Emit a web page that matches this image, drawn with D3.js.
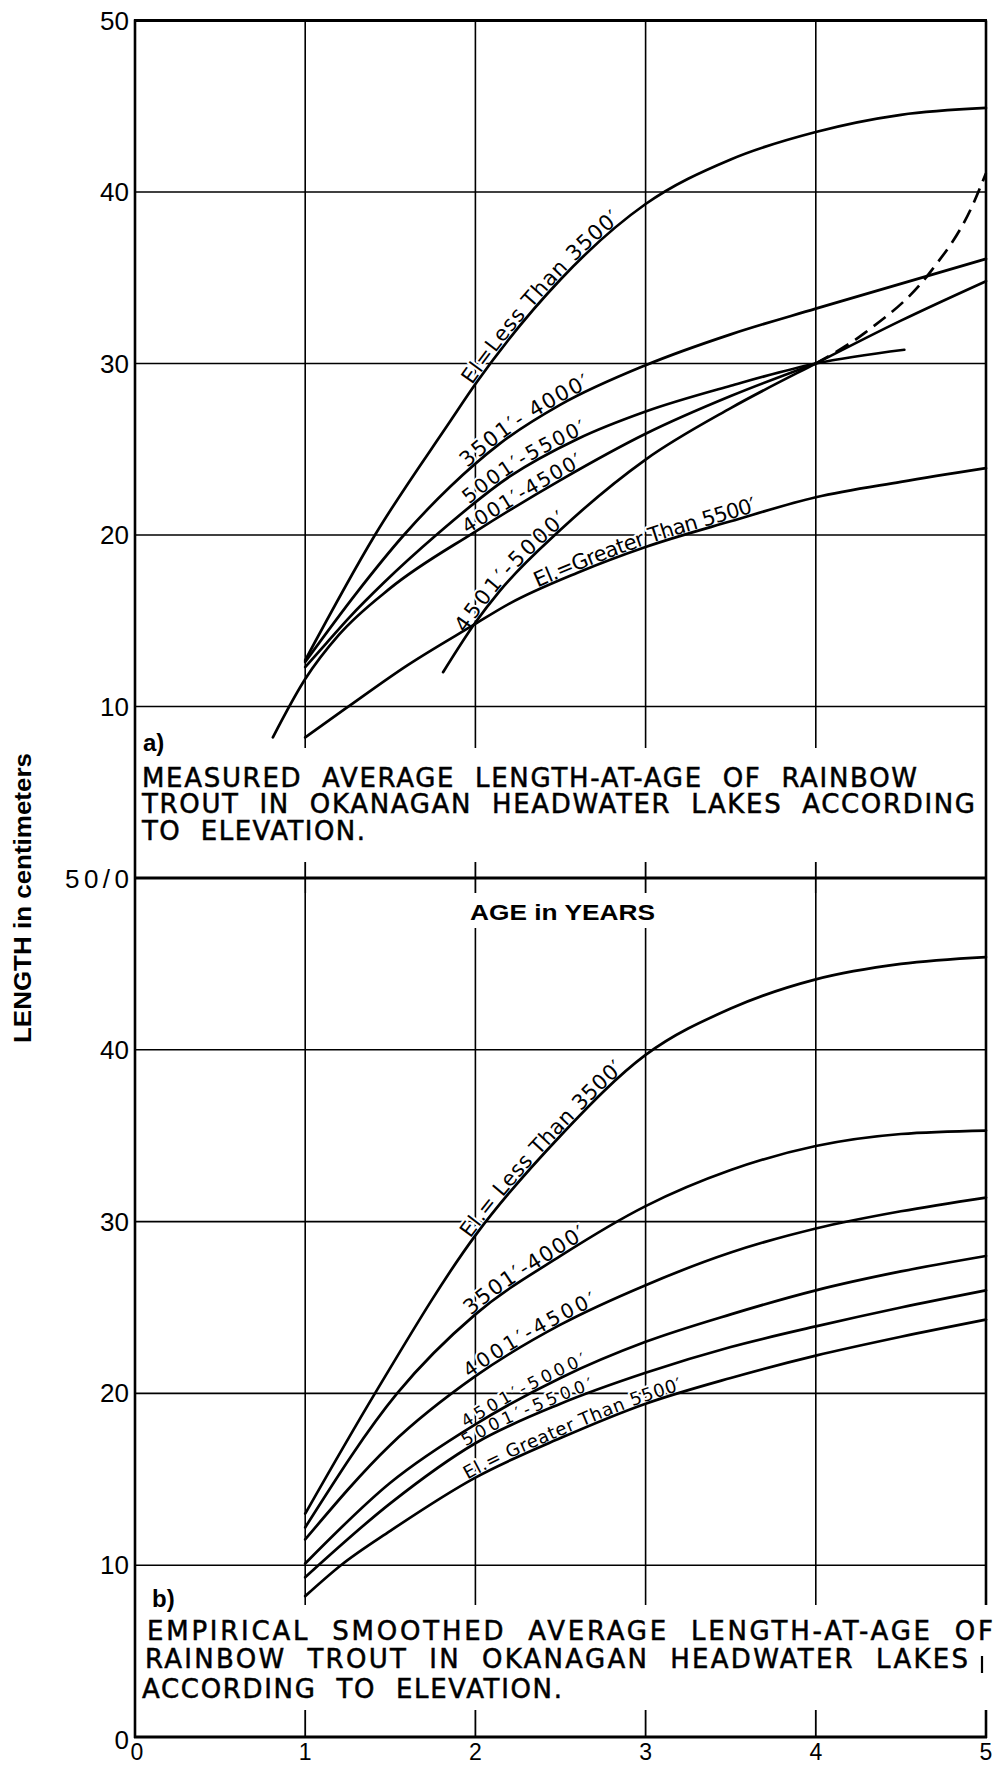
<!DOCTYPE html>
<html>
<head>
<meta charset="utf-8">
<script src="https://cdn.jsdelivr.net/npm/d3@7"></script>
<style>
  html, body { margin: 0; padding: 0; background: #fff; }
  svg { display: block; }
  text { font-family: "Liberation Sans", Arial, sans-serif; fill: #000; }
  .cap { white-space: pre; font-family: "DejaVu Sans", sans-serif; stroke: #000; stroke-width: 0.5px; }
</style>
</head>
<body>
<div id="chart"></div>
<script>
// ---- axis ticks ----
const ageTicks = [0, 1, 2, 3, 4, 5];
const ageTickLabels = ["0", "1", "2", "3", "4", "5"];
const gridAges = [1, 2, 3, 4];
const lengthTicks = [10, 20, 30, 40];
const lengthTickLabels = ["10", "20", "30", "40"];

// ---- a) measured average length-at-age [age, cm] ----
const measuredLt3500 = [[1, 12.7], [1.41, 20], [1.85, 26.6], [2, 28.8], [2.5, 34.9], [3, 39.3], [3.5, 41.9], [4, 43.5], [4.5, 44.5], [5, 44.9]];
const measured3501 = [[1, 12.6], [1.3, 16.6], [1.58, 20], [1.85, 22.8], [2.14, 25.3], [2.5, 27.6], [3, 29.9], [3.5, 31.7], [4, 33.2], [5, 36.1]];
const measured4001 = [[0.81, 8.2], [1, 11.6], [1.2, 14.2], [1.5, 16.9], [2, 20.2], [2.5, 23.2], [3, 25.9], [3.5, 28.1], [4, 30]];
const measured4501 = [[1.81, 12], [2, 14.9], [2.14, 16.7], [2.5, 20.3], [3, 24.4], [3.5, 27.4], [4, 30], [4.5, 32.5], [5, 34.8]];
const measured5001 = [[1, 12.3], [1.125, 13.7], [1.26, 15.2], [1.46, 17.2], [1.77, 20], [2.2, 23.4], [2.6, 25.6], [3, 27.2], [3.5, 28.7], [4, 30], [4.52, 30.8]];
const measuredGt5500 = [[1, 8.2], [1.24, 9.9], [1.6, 12.4], [1.98, 14.7], [2.2, 16], [2.6, 17.8], [3, 19.3], [3.5, 20.8], [4, 22.2], [4.5, 23.1], [5, 23.9]];
const measuredDashed = [[4, 30], [4.29, 31.8], [4.67, 35.3], [4.92, 39.2], [5, 41.1]];

// ---- b) empirical smoothed average length-at-age [age, cm] ----
const smoothLt3500 = [[1, 13], [1.41, 20], [2, 29.2], [2.5, 35], [3, 39.7], [3.5, 42.4], [4, 44.1], [4.5, 45], [5, 45.4]];
const smooth3501 = [[1, 12.2], [1.54, 20], [2, 24.6], [2.5, 28], [3, 30.9], [3.5, 33], [4, 34.4], [4.5, 35.1], [5, 35.3]];
const smooth4001 = [[1, 11.5], [1.5, 17], [2, 21], [2.5, 24], [3, 26.3], [3.5, 28.2], [4, 29.6], [4.5, 30.6], [5, 31.4]];
const smooth4501 = [[1, 10.1], [1.5, 14.8], [2, 18.2], [2.5, 20.9], [3, 23], [3.5, 24.6], [4, 26], [4.5, 27.1], [5, 28]];
const smooth5001 = [[1, 9.3], [1.5, 13.6], [2, 17.1], [2.5, 19.4], [3, 21.2], [3.5, 22.7], [4, 23.9], [4.5, 25], [5, 26]];
const smoothGt5500 = [[1, 8.2], [1.21, 10], [1.5, 12], [2, 15.1], [2.5, 17.4], [3, 19.4], [3.5, 20.9], [4, 22.2], [4.5, 23.3], [5, 24.3]];

// ---- captions ----
const captionA = ["MEASURED  AVERAGE  LENGTH-AT-AGE  OF  RAINBOW",
                  "TROUT  IN  OKANAGAN  HEADWATER  LAKES  ACCORDING",
                  "TO  ELEVATION."];
const captionB = ["EMPIRICAL  SMOOTHED  AVERAGE  LENGTH-AT-AGE  OF",
                  "RAINBOW  TROUT  IN  OKANAGAN  HEADWATER  LAKES",
                  "ACCORDING  TO  ELEVATION."];

const W = 1000, H = 1767;
const svg = d3.select("#chart").append("svg")
    .attr("width", W)
    .attr("height", H);

const x = d3.scaleLinear().domain([0, 5]).range([135, 986]);
const yTop = d3.scaleLinear().domain([0, 50]).range([878, 20.5]);
const yBot = d3.scaleLinear().domain([0, 50]).range([1737, 878]);

// layers, back to front: labels sit under the curves so their white halo only cuts the grid
const gGrid = svg.append("g");
const gLabel = svg.append("g");
const gCurve = svg.append("g");
const gFrame = svg.append("g");
const gText = svg.append("g");

function seg(g, x1, y1, x2, y2, w) {
    g.append("line")
        .attr("x1", x1).attr("y1", y1)
        .attr("x2", x2).attr("y2", y2)
        .attr("stroke", "#000")
        .attr("stroke-width", w);
}

// horizontal grid lines
lengthTicks.forEach(v => {
    seg(gGrid, x(0), yTop(v), x(5), yTop(v), 1.6);
    seg(gGrid, x(0), yBot(v), x(5), yBot(v), 1.6);
});

// vertical grid lines, broken where the captions sit
gridAges.forEach(a => {
    seg(gGrid, x(a), yTop(50), x(a), 748, 1.6);
    seg(gGrid, x(a), 862, x(a), 893, 1.8);
    const start = (a === 2 || a === 3) ? 928 : 893;
    seg(gGrid, x(a), start, x(a), 1605, 1.6);
    seg(gGrid, x(a), 1710, x(a), yBot(0), 1.8);
});

// frame
seg(gFrame, x(0), yTop(50) - 1, x(0), yBot(0) + 1, 2.6);
seg(gFrame, x(0) - 1, yTop(50), x(5) + 1, yTop(50), 3);
seg(gFrame, x(0) - 1, yTop(0), x(5) + 1, yTop(0), 3.2);
seg(gFrame, x(0) - 1, yBot(0), x(5) + 1, yBot(0), 3);
seg(gFrame, x(5), yTop(50), x(5), 1605, 2.6);
seg(gFrame, x(5) - 4, 1656, x(5) - 4, 1673, 2.2);
seg(gFrame, x(5), 1710, x(5), yBot(0) + 1, 2.6);

// curves
const series = [
    { id: "a1", y: yTop, pts: measuredLt3500, label: "El=Less Than 3500′", from: 1.99, to: 2.86, size: 21 },
    { id: "a2", y: yTop, pts: measured3501, label: "3501′- 4000′", from: 1.96, to: 2.68, size: 21 },
    { id: "a3", y: yTop, pts: measured5001, label: "5001′-5500′", from: 1.97, to: 2.66, size: 20 },
    { id: "a4", y: yTop, pts: measured4001, label: "4001′-4500′", from: 1.96, to: 2.64, size: 20 },
    { id: "a5", y: yTop, pts: measured4501, label: "4501′-5000′", from: 1.95, to: 2.55, size: 21 },
    { id: "a6", y: yTop, pts: measuredGt5500, label: "El.=Greater Than 5500′", from: 2.37, to: 3.66, size: 21 },
    { id: "a7", y: yTop, pts: measuredDashed, dashed: true },
    { id: "b1", y: yBot, pts: smoothLt3500, label: "El.= Less Than 3500′", from: 1.98, to: 2.88, size: 21 },
    { id: "b2", y: yBot, pts: smooth3501, label: "3501′-4000′", from: 1.98, to: 2.66, size: 21 },
    { id: "b3", y: yBot, pts: smooth4001, label: "4001′-4500′", from: 1.97, to: 2.72, size: 20 },
    { id: "b4", y: yBot, pts: smooth4501, label: "4501′-5000′", from: 1.95, to: 2.66, size: 17 },
    { id: "b5", y: yBot, pts: smooth5001, label: "5001′-5500′", from: 1.95, to: 2.70, size: 17 },
    { id: "b6", y: yBot, pts: smoothGt5500, label: "El.= Greater Than 5500′", from: 1.96, to: 3.22, size: 18 }
];

function lengthAtX(node, px) {
    let lo = 0, hi = node.getTotalLength();
    for (let i = 0; i < 40; i++) {
        const mid = (lo + hi) / 2;
        if (node.getPointAtLength(mid).x < px) lo = mid; else hi = mid;
    }
    return lo;
}

series.forEach(s => {
    const line = d3.line()
        .x(d => x(d[0]))
        .y(d => s.y(d[1]))
        .curve(d3.curveMonotoneX);
    const path = gCurve.append("path")
        .attr("id", "curve-" + s.id)
        .attr("d", line(s.pts))
        .attr("fill", "none")
        .attr("stroke", "#000")
        .attr("stroke-width", 2.7)
        .attr("stroke-linecap", "round");
    if (s.dashed) path.attr("stroke-dasharray", "15,8").attr("stroke-linecap", "butt");
    if (!s.label) return;

    const node = path.node();
    const l0 = lengthAtX(node, x(s.from));
    const l1 = lengthAtX(node, x(s.to));

    const t = gLabel.append("text")
        .attr("dy", -2)
        .style("font-family", "'DejaVu Sans', sans-serif")
        .style("font-size", s.size + "px")
        .style("paint-order", "stroke")
        .attr("stroke", "#fff")
        .attr("stroke-width", 4)
        .attr("stroke-linejoin", "round");
    t.append("textPath")
        .attr("href", "#curve-" + s.id)
        .attr("startOffset", l0)
        .text(s.label);
    const natural = t.node().getComputedTextLength();
    const ls = Math.max(-1.5, (l1 - l0 - natural) / (s.label.length - 1));
    t.style("letter-spacing", ls + "px");
});

// y tick labels
const yLab = (txt, py) => gText.append("text")
    .attr("x", 129).attr("y", py)
    .attr("text-anchor", "end")
    .attr("dominant-baseline", "central")
    .style("font-size", "26px")
    .text(txt);
lengthTicks.forEach((v, i) => {
    yLab(lengthTickLabels[i], yTop(v));
    yLab(lengthTickLabels[i], yBot(v));
});
yLab("50", yTop(50));
yLab("50/0", yTop(0) + 1).attr("textLength", 64).attr("lengthAdjust", "spacing");
yLab("0", yBot(0) + 3);

// x tick labels
ageTicks.forEach((a, i) => {
    gText.append("text")
        .attr("x", x(a) + (a === 0 ? 2 : 0))
        .attr("y", 1760)
        .attr("text-anchor", "middle")
        .style("font-size", "23px")
        .text(ageTickLabels[i]);
});

// axis titles
gText.append("text")
    .attr("transform", "translate(31,898) rotate(-90)")
    .attr("text-anchor", "middle")
    .attr("textLength", 290)
    .attr("lengthAdjust", "spacingAndGlyphs")
    .style("font-size", "23px")
    .style("font-weight", "bold")
    .text("LENGTH in centimeters");

gText.append("text")
    .attr("x", 470).attr("y", 920)
    .attr("textLength", 185)
    .attr("lengthAdjust", "spacingAndGlyphs")
    .style("font-size", "22px")
    .style("font-weight", "bold")
    .text("AGE in YEARS");

// captions
gText.append("text")
    .attr("x", 143).attr("y", 751)
    .style("font-size", "24px")
    .style("font-weight", "bold")
    .text("a)");
gText.append("text")
    .attr("x", 152).attr("y", 1607)
    .style("font-size", "24px")
    .style("font-weight", "bold")
    .text("b)");

const capA = [{ x: 142, y: 787, len: 775 }, { x: 142, y: 813, len: 833 }, { x: 142, y: 840, len: 223 }];
const capB = [{ x: 147, y: 1640, len: 846 }, { x: 145, y: 1668, len: 823 }, { x: 142, y: 1698, len: 420 }];
[[captionA, capA], [captionB, capB]].forEach(([lines, pos]) => {
    lines.forEach((ln, i) => {
        gText.append("text")
            .attr("class", "cap")
            .attr("x", pos[i].x).attr("y", pos[i].y)
            .attr("textLength", pos[i].len)
            .attr("lengthAdjust", "spacing")
            .style("font-size", "26px")
            .text(ln);
    });
});
</script>
</body>
</html>
